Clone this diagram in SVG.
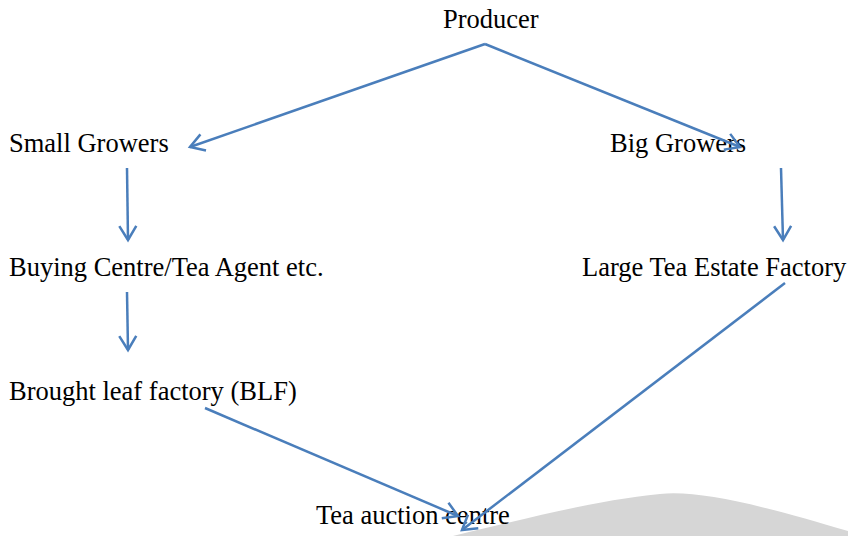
<svg xmlns="http://www.w3.org/2000/svg" width="848" height="536" viewBox="0 0 848 536">
<style>
text{font-family:"Liberation Serif","Times New Roman",serif;font-size:26.5px;fill:#000}
.c{fill:none;stroke:#4a7ebb;stroke-width:2.5}
</style>
<defs>
<marker id="a" markerWidth="20" markerHeight="20" viewBox="-16 -10 18 20" refX="0" refY="0" orient="auto" markerUnits="userSpaceOnUse">
<path d="M-14,-8.5 L0,0 L-14,8.5" fill="none" stroke="#4a7ebb" stroke-width="2.5"/>
</marker>
</defs>
<rect width="848" height="536" fill="#fff"/>
<path d="M453,536 C540,515 600,500 660,494 C700,490 760,505 848,531 L848,536 Z" fill="#d6d6d6"/>
<g id="producer"><text x="443" y="28">Producer</text></g>
<g id="small"><text x="9" y="152">Small Growers</text></g>
<g id="big"><text x="610" y="152">Big Growers</text></g>
<g id="buying"><text x="9" y="276">Buying Centre/Tea Agent etc.</text></g>
<g id="large"><text x="582" y="276">Large Tea Estate Factory</text></g>
<g id="blf"><text x="9" y="400">Brought leaf factory (BLF)</text></g>
<g id="auction"><text x="316" y="524">Tea auction centre</text></g>
<g id="connectors">
<path class="c" d="M485,44 L190,147" marker-end="url(#a)"/>
<path class="c" d="M485,44 L740,147" marker-end="url(#a)"/>
<path class="c" d="M127,168 L128,240" marker-end="url(#a)"/>
<path class="c" d="M781,168 L783,240" marker-end="url(#a)"/>
<path class="c" d="M127,292 L128,350" marker-end="url(#a)"/>
<path class="c" d="M205,408 L458,516" marker-end="url(#a)"/>
<path class="c" d="M785,283 L462,530" marker-end="url(#a)"/>
</g>
</svg>
